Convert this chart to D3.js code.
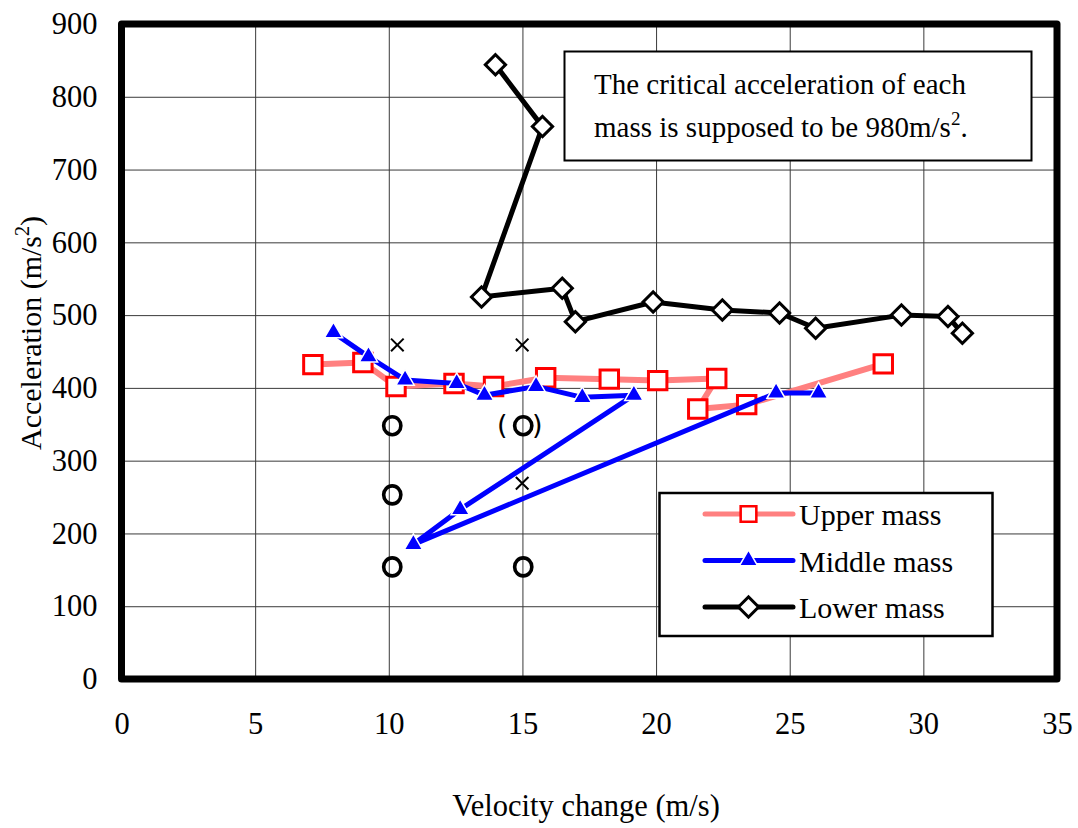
<!DOCTYPE html>
<html>
<head>
<meta charset="utf-8">
<script src="https://cdn.jsdelivr.net/npm/d3@7"></script>
<style>
  html, body { margin: 0; padding: 0; background: #fff; }
  svg { display: block; }
  text { font-family: "Liberation Serif", "Times New Roman", serif; fill: #000; }
</style>
</head>
<body>
<svg id="chart" width="1078" height="828"></svg>
<script>
// Axis ticks
const xTicks = [0, 5, 10, 15, 20, 25, 30, 35];
const yTicks = [0, 100, 200, 300, 400, 500, 600, 700, 800, 900];

// Upper mass: velocity change (m/s) and acceleration (m/s^2)
const upperV = [7.16, 9.03, 10.27, 12.44, 13.92, 15.87, 18.25, 20.06, 22.27, 21.56, 23.39, 28.5];
const upperA = [432, 435, 402, 406, 402, 414, 412, 410, 413, 371, 377, 433];

// Middle mass
const middleV = [7.93, 9.24, 10.61, 12.54, 13.58, 15.51, 17.24, 19.17, 12.67, 10.92, 24.49, 26.08];
const middleA = [476, 443, 411, 406, 390, 402, 387, 390, 233, 185, 393, 393];

// Lower mass
const lowerV = [13.99, 15.75, 13.47, 16.49, 16.98, 19.89, 22.48, 24.62, 25.97, 29.18, 30.92, 31.46];
const lowerA = [844, 759, 525, 537, 491, 518, 507, 503, 482, 500, 498, 475];

// Damage observations: "O" marks (one bracketed) and "x" marks
const circleV = [10.13, 10.13, 10.13, 15.03, 15.03];
const circleA = [348, 253, 154, 348, 154];
const circleBracketed = [false, false, false, true, false];
const crossV = [10.32, 14.99, 14.99];
const crossA = [459, 459, 269];

const seriesNames = ["Upper mass", "Middle mass", "Lower mass"];

const svg = d3.select("#chart");
const plot = { left: 121.5, right: 1057, top: 24, bottom: 679 };
const W = plot.right - plot.left, H = plot.bottom - plot.top;

const x = d3.scaleLinear().domain([0, 35]).range([plot.left, plot.right]);
const y = d3.scaleLinear().domain([0, 900]).range([plot.bottom, plot.top]);

// Grid + tick labels via axes
const gy = svg.append("g")
  .attr("transform", `translate(${plot.left},0)`)
  .call(d3.axisLeft(y).tickValues(yTicks).tickSizeInner(-W).tickSizeOuter(0).tickPadding(24).tickFormat(d3.format("d")));
const gx = svg.append("g")
  .attr("transform", `translate(0,${plot.bottom})`)
  .call(d3.axisBottom(x).tickValues(xTicks).tickSizeInner(-H).tickSizeOuter(0).tickPadding(33).tickFormat(d3.format("d")));
[gy, gx].forEach(g => {
  g.select(".domain").remove();
  g.selectAll(".tick line").attr("stroke", "#3a3a3a").attr("stroke-width", 1);
  g.selectAll(".tick text")
    .style("font-family", '"Liberation Serif", "Times New Roman", serif')
    .style("font-size", "30.5px").attr("fill", "#000");
});

// Series drawing helpers
const line = d3.line().x(d => x(d[0])).y(d => y(d[1]));
const pts = (vs, as) => vs.map((v, i) => [v, as[i]]);

const upper = pts(upperV, upperA);
const middle = pts(middleV, middleA);
const lower = pts(lowerV, lowerA);

const squareSym = d3.symbol().type(d3.symbolSquare).size(340);
const triSym = d3.symbol().type(d3.symbolTriangle).size(145);
const diamondSym = d3.symbol().type(d3.symbolSquare).size(205);

function drawUpperMarker(sel) {
  sel.append("path").attr("d", squareSym())
    .attr("fill", "#fff").attr("stroke", "#ff0000").attr("stroke-width", 3);
}
function drawMiddleMarker(sel) {
  sel.append("path").attr("d", triSym())
    .attr("fill", "#0000ff").attr("stroke", "#fff").attr("stroke-width", 1.5);
}
function drawLowerMarker(sel) {
  sel.append("path").attr("d", diamondSym()).attr("transform", "rotate(45)")
    .attr("fill", "#fff").attr("stroke", "#000").attr("stroke-width", 3);
}

// Observation marks
const obs = svg.append("g");
circleV.forEach((v, i) => {
  const cx = x(v), cy = y(circleA[i]);
  obs.append("ellipse").attr("cx", cx).attr("cy", cy).attr("rx", 8.6).attr("ry", 9)
    .attr("fill", "none").attr("stroke", "#000").attr("stroke-width", 3.6);
  if (circleBracketed[i]) {
    obs.append("text").attr("x", cx - 21).attr("y", cy + 8).attr("text-anchor", "middle")
      .style("font-size", "27px").style("font-family", '"DejaVu Sans", sans-serif').text("(");
    obs.append("text").attr("x", cx + 14).attr("y", cy + 8).attr("text-anchor", "middle")
      .style("font-size", "27px").style("font-family", '"DejaVu Sans", sans-serif').text(")");
  }
});
crossV.forEach((v, i) => {
  const cx = x(v), cy = y(crossA[i]), r = 6.3;
  obs.append("path")
    .attr("d", `M${cx - r},${cy - r}L${cx + r},${cy + r}M${cx + r},${cy - r}L${cx - r},${cy + r}`)
    .attr("stroke", "#000").attr("stroke-width", 2).attr("fill", "none");
});

// Upper mass
svg.append("path").datum(upper).attr("d", line)
  .attr("fill", "none").attr("stroke", "#ff8080").attr("stroke-width", 6).attr("stroke-linejoin", "round");
svg.append("g").selectAll("g").data(upper).join("g")
  .attr("transform", d => `translate(${x(d[0])},${y(d[1])})`).each(function () { drawUpperMarker(d3.select(this)); });

// Middle mass
svg.append("path").datum(middle).attr("d", line)
  .attr("fill", "none").attr("stroke", "#0000ff").attr("stroke-width", 5).attr("stroke-linejoin", "round");
svg.append("g").selectAll("g").data(middle).join("g")
  .attr("transform", d => `translate(${x(d[0])},${y(d[1])})`).each(function () { drawMiddleMarker(d3.select(this)); });

// Lower mass
svg.append("path").datum(lower).attr("d", line)
  .attr("fill", "none").attr("stroke", "#000").attr("stroke-width", 5).attr("stroke-linejoin", "round");
svg.append("g").selectAll("g").data(lower).join("g")
  .attr("transform", d => `translate(${x(d[0])},${y(d[1])})`).each(function () { drawLowerMarker(d3.select(this)); });

// Plot frame
svg.append("rect")
  .attr("x", plot.left).attr("y", plot.top).attr("width", W).attr("height", H)
  .attr("fill", "none").attr("stroke", "#000").attr("stroke-width", 7).attr("stroke-linejoin", "round");

// Note box
const note = svg.append("g");
note.append("rect").attr("x", 564.5).attr("y", 51.5).attr("width", 467).attr("height", 109)
  .attr("fill", "#fff").attr("stroke", "#000").attr("stroke-width", 2);
note.append("text").attr("x", 594).attr("y", 94).style("font-size", "29px")
  .text("The critical acceleration of each");
const l2 = note.append("text").attr("x", 594).attr("y", 137).style("font-size", "29px");
l2.append("tspan").text("mass is supposed to be 980m/s");
l2.append("tspan").attr("dy", -12).style("font-size", "19px").text("2");
l2.append("tspan").attr("dy", 12).text(".");

// Legend
const legend = svg.append("g");
legend.append("rect").attr("x", 659.5).attr("y", 493).attr("width", 333).attr("height", 143)
  .attr("fill", "#fff").attr("stroke", "#000").attr("stroke-width", 2.5);
const legendRows = [
  { name: seriesNames[0], color: "#ff8080", width: 5, marker: drawUpperMarker, scale: 0.85 },
  { name: seriesNames[1], color: "#0000ff", width: 5, marker: drawMiddleMarker, scale: 1 },
  { name: seriesNames[2], color: "#000", width: 5, marker: drawLowerMarker, scale: 1 }
];
const legendY = d3.scalePoint().domain(seriesNames).range([514, 607]);
legendRows.forEach(r => {
  const ly = legendY(r.name);
  legend.append("line").attr("x1", 705).attr("x2", 793).attr("y1", ly).attr("y2", ly)
    .attr("stroke", r.color).attr("stroke-width", r.width).attr("stroke-linecap", "round");
  const m = legend.append("g").attr("transform", `translate(748.5,${ly}) scale(${r.scale})`);
  r.marker(m);
  legend.append("text").attr("x", 799).attr("y", ly + 11).style("font-size", "30px").text(r.name);
});

// Axis titles
svg.append("text").attr("x", 586).attr("y", 816).attr("text-anchor", "middle")
  .style("font-size", "30.5px").text("Velocity change (m/s)");
const yt = svg.append("text").attr("transform", "translate(41,333) rotate(-90)")
  .attr("text-anchor", "middle").style("font-size", "30px");
yt.append("tspan").text("Acceleration (m/s");
yt.append("tspan").attr("dy", -12).style("font-size", "20px").text("2");
yt.append("tspan").attr("dy", 12).text(")");
</script>
</body>
</html>
